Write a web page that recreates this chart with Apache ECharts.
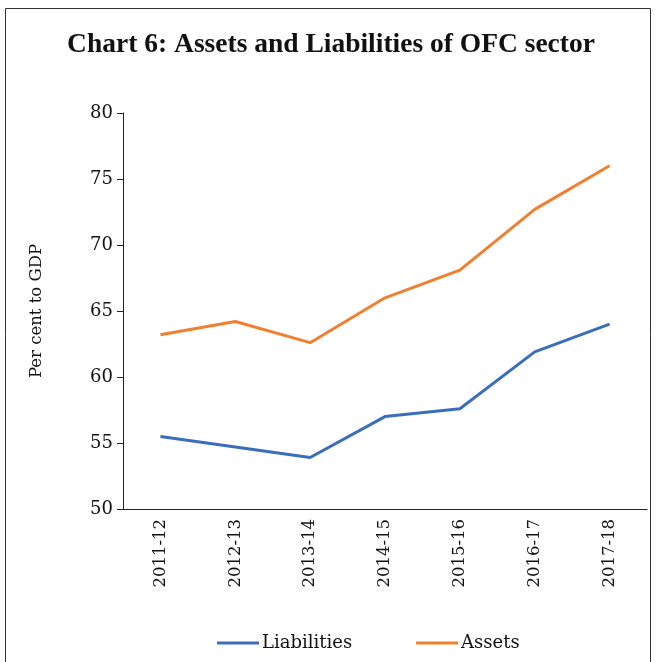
<!DOCTYPE html>
<html>
<head>
<meta charset="utf-8">
<script src="https://cdn.jsdelivr.net/npm/echarts@6/dist/echarts.min.js"></script>
<style>
  html, body { margin: 0; padding: 0; background: #fff; }
  #chart { width: 662px; height: 662px; }
</style>
</head>
<body>
<div id="chart"></div>
<script>
const years = ['2011-12', '2012-13', '2013-14', '2014-15', '2015-16', '2016-17', '2017-18']
const liabilities = [55.5, 54.7, 53.9, 57.0, 57.6, 61.9, 64.0]
const assets = [63.2, 64.2, 62.6, 66.0, 68.1, 72.7, 76.0]
const yTicks = [50, 55, 60, 65, 70, 75, 80]

const serif = 'DejaVu Serif'
const axisColor = '#222'

let myChart = echarts.init(document.getElementById('chart'))
let option = {
    animation: false,
    graphic: [{
        type: 'rect',
        shape: { x: 5.5, y: 8.5, width: 645, height: 680 },
        style: { fill: 'none', stroke: '#333', lineWidth: 1 }
    }],
    title: {
        text: 'Chart 6: Assets and Liabilities of OFC sector',
        left: 'center',
        top: 26,
        textStyle: { fontFamily: 'Liberation Serif', fontSize: 27.5, fontWeight: 'bold', color: '#111' }
    },
    legend: {
        left: 212,
        top: 629,
        itemWidth: 42,
        itemHeight: 3,
        itemGap: 64,
        icon: 'rect',
        textStyle: { fontFamily: serif, fontSize: 18, color: '#111', padding: [0, 0, 0, -2] },
        data: ['Liabilities', 'Assets']
    },
    grid: { left: 123, top: 113, right: 15, bottom: 153 },
    xAxis: {
        type: 'category',
        data: years,
        boundaryGap: true,
        axisLine: { lineStyle: { color: axisColor, width: 1 } },
        axisTick: { length: 6, lineStyle: { color: axisColor } },
        axisLabel: { rotate: 90, margin: 10, fontFamily: serif, fontSize: 16.5, color: '#111' }
    },
    yAxis: {
        type: 'value',
        min: yTicks[0],
        max: yTicks[yTicks.length - 1],
        interval: 5,
        name: 'Per cent to GDP',
        nameLocation: 'middle',
        nameGap: 78,
        nameTextStyle: { fontFamily: serif, fontSize: 16.5, color: '#111' },
        splitLine: { show: false },
        axisLine: { show: true, lineStyle: { color: axisColor, width: 1 } },
        axisTick: { show: true, length: 6, lineStyle: { color: axisColor } },
        axisLabel: { margin: 10, fontFamily: serif, fontSize: 18, color: '#111' }
    },
    series: [
        {
            name: 'Liabilities',
            type: 'line',
            data: liabilities,
            symbol: 'none',
            color: '#3A6EBA',
            lineStyle: { width: 3 }
        },
        {
            name: 'Assets',
            type: 'line',
            data: assets,
            symbol: 'none',
            color: '#F0802F',
            lineStyle: { width: 3 }
        }
    ]
}
myChart.setOption(option)
</script>
</body>
</html>
